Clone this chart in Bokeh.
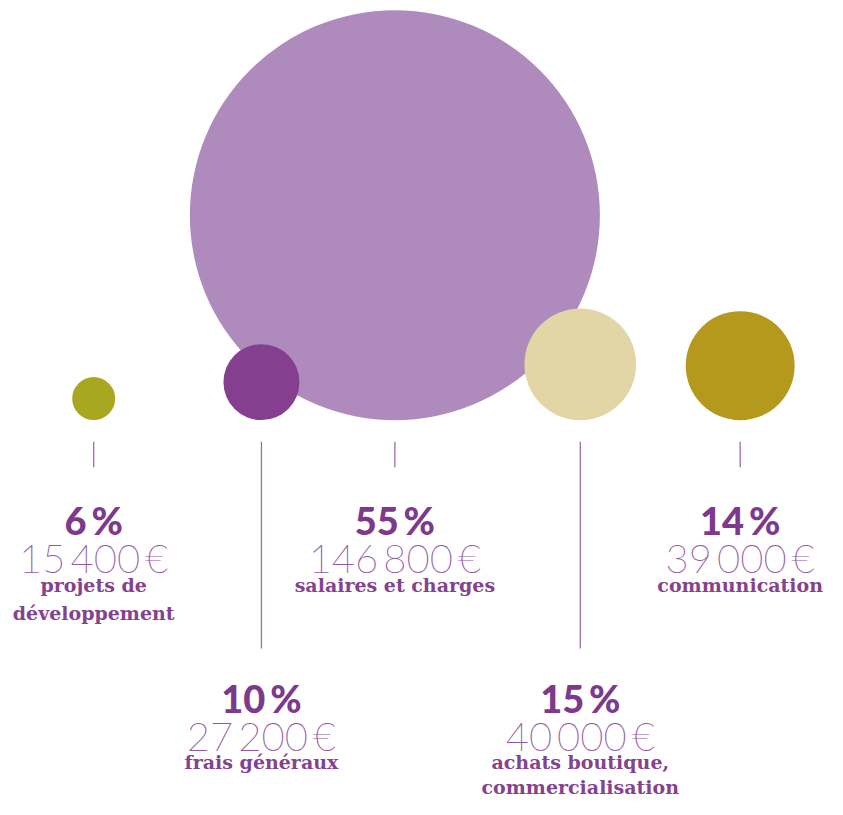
from bokeh.plotting import figure
from bokeh.models import Range1d
from bokeh.core.properties import value
from bokeh.embed import file_html
from bokeh.resources import INLINE

# ---- data ----
categories = ["projets de\ndéveloppement", "frais généraux", "salaires et charges",
              "achats boutique,\ncommercialisation", "communication"]
percents = [6, 10, 55, 15, 14]
amounts = [15400, 27200, 146800, 40000, 39000]

# ---- layout / style ----
col_x = [95, 266, 402, 591, 754]
lower_row = [False, True, False, True, False]
colors = ["#a9a71f", "#843f8e", "#af8abd", "#e2d6a7", "#b5991d"]
base_y = 428          # common bottom of circles
scale = 209 / 146800  # radius per euro
SP = "\u2009"

def fmt_amount(v):
    s = f"{v:,}".replace(",", SP)
    return s + SP + "€"

p = figure(width=827, height=799, x_range=Range1d(0, 843), y_range=Range1d(815, 0),
           output_backend="svg", toolbar_location=None, min_border=0,
           outline_line_color=None)
p.axis.visible = False
p.grid.visible = False

order = sorted(range(len(amounts)), key=lambda i: -amounts[i])
radii = [amounts[i] * scale for i in order]
p.circle(x=[col_x[i] for i in order], y=[base_y - r for r in radii], radius=radii,
         fill_color=[colors[i] for i in order], line_color=None)

# connector lines
for x, low in zip(col_x, lower_row):
    y1 = 661 if low else 476
    p.segment(x0=[x], y0=[450], x1=[x], y1=[y1], line_color="#9d6aaa", line_width=1.3)

pct_x, pct_y, pct_t = [], [], []
amt_x, amt_y, amt_t = [], [], []
lab_x, lab_y, lab_t = [], [], []
for x, low, pc, am, cat in zip(col_x, lower_row, percents, amounts, categories):
    top = 711 if low else 530
    gap = 25 if low else 29
    pct_x.append(x); pct_y.append(top); pct_t.append(f"{pc}{SP}%")
    amt_x.append(x); amt_y.append(top + 39); amt_t.append(fmt_amount(am))
    for i, line in enumerate(cat.split("\n")):
        lab_x.append(x); lab_y.append(top + 66 + i * gap); lab_t.append(line)

p.text(x=pct_x, y=pct_y, text=pct_t, text_font=value("Lato Black"),
       text_font_size="38px", text_color="#7d3a8d", text_align="center",
       text_baseline="alphabetic")
p.text(x=amt_x, y=amt_y, text=amt_t, text_font=value("Lato Thin"),
       text_font_size="40px", text_color="#9358a3", text_align="center",
       text_baseline="alphabetic")
p.text(x=lab_x, y=lab_y, text=lab_t, text_font=value("DejaVu Serif"), text_font_style="bold",
       text_font_size="19px", text_color="#84428f", text_align="center",
       text_baseline="alphabetic")

open("out.html", "w").write(file_html(p, INLINE))
